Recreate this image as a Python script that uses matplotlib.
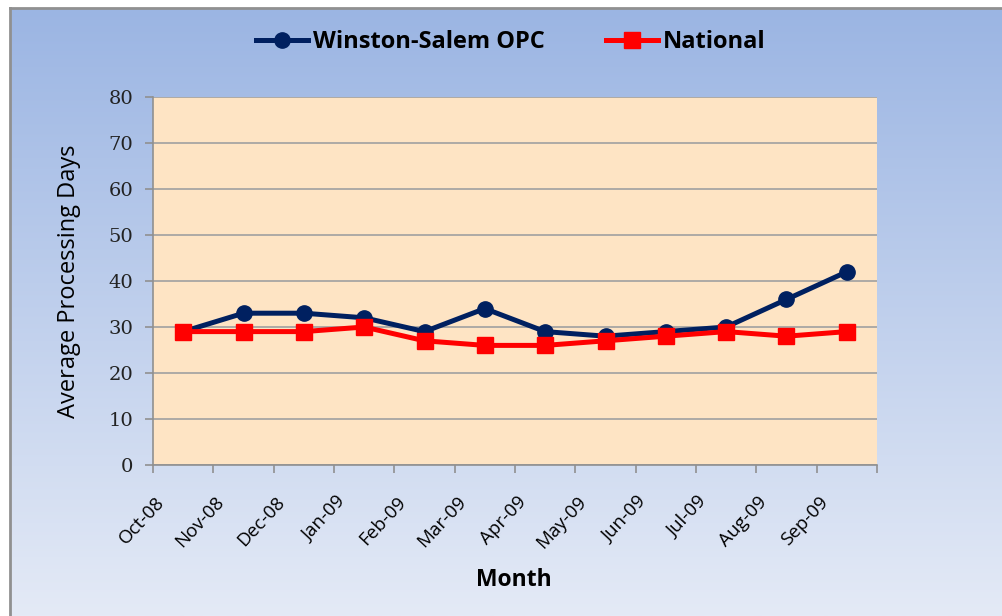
import numpy as np
import matplotlib
matplotlib.use("Agg")
import matplotlib.pyplot as plt
import matplotlib.transforms as mtransforms

months = ["Oct-08", "Nov-08", "Dec-08", "Jan-09", "Feb-09", "Mar-09",
          "Apr-09", "May-09", "Jun-09", "Jul-09", "Aug-09", "Sep-09"]
winston = [29, 33, 33, 32, 29, 34, 29, 28, 29, 30, 36, 42]
national = [29, 29, 29, 30, 27, 26, 26, 27, 28, 29, 28, 29]
yticks = [0, 10, 20, 30, 40, 50, 60, 70, 80]

W, H = 1003, 616
fig = plt.figure(figsize=(W / 100, H / 100), dpi=100)
fig.patch.set_facecolor("white")

# gradient background
bg = fig.add_axes([10 / W, 0, (W - 10) / W, (H - 8) / H], zorder=0)
top = np.array([155, 181, 227]) / 255
bot = np.array([228, 234, 246]) / 255
t = np.linspace(0, 1, 256)[:, None]
grad = top[None, :] * (1 - t) + bot[None, :] * t
bg.imshow(grad[:, None, :], aspect="auto", extent=[0, 1, 0, 1])
bg.set_xticks([]); bg.set_yticks([])
for s in ["right", "bottom"]:
    bg.spines[s].set_visible(False)
for s in ["left", "top"]:
    bg.spines[s].set_color("#909090")
    bg.spines[s].set_linewidth(2)

ax = fig.add_axes([153 / W, (H - 465) / H, 724 / W, 368 / H], zorder=1)
ax.set_facecolor("#FEE4C4")
x = np.arange(len(months))
ax.plot(x, winston, color="#002060", lw=3.6, marker="o", ms=11, label="Winston-Salem OPC", zorder=3)
ax.plot(x, national, color="#FF0000", lw=3.6, marker="s", ms=11, label="National", zorder=4)

ax.set_xlim(-0.5, len(months) - 0.5)
ax.set_ylim(0, 80)
ax.set_yticks(yticks)
ax.set_yticklabels([str(v) for v in yticks], family="DejaVu Serif", fontsize=14, color="#222222")
ax.grid(axis="y", color="#A0A0A0", lw=1.2)
ax.set_axisbelow(True)
ax.set_xticks(x)
ax.set_xticklabels([""] * len(months))
lab_tr = ax.get_xaxis_transform() + mtransforms.ScaledTranslation(-22 / 100, -34 / 100, fig.dpi_scale_trans)
for xi, m in zip(x, months):
    ax.text(xi, 0, m, transform=lab_tr, rotation=47, ha="right", va="center",
            rotation_mode="anchor", family="Open Sans", fontsize=13.5, clip_on=False)
ax.set_xticks(np.arange(-0.5, len(months)), minor=True)
ax.tick_params(axis="x", which="major", length=0, pad=0)
ax.tick_params(axis="x", which="minor", length=6, color="#909090", width=1.2)
ax.tick_params(axis="y", length=6, color="#909090", width=1.2, pad=8)
for s in ["top", "right"]:
    ax.spines[s].set_visible(False)
for s in ["left", "bottom"]:
    ax.spines[s].set_color("#909090")
    ax.spines[s].set_linewidth(1.2)

ax.set_ylabel("Average Processing Days", family="Open Sans", fontsize=17, labelpad=20)
fig.text(514 / W, 1 - 580 / H, "Month", ha="center", va="center",
         family="Open Sans", fontsize=16.5, fontweight="bold")

fig.legend(handles=ax.get_lines(), loc="center", bbox_to_anchor=(511 / W, 1 - 42 / H),
           ncol=2, frameon=False, prop={"family": "Open Sans", "weight": "bold", "size": 17},
           handlelength=2.2, columnspacing=2.6, handletextpad=0.2)

fig.savefig("out.png", dpi=100)
